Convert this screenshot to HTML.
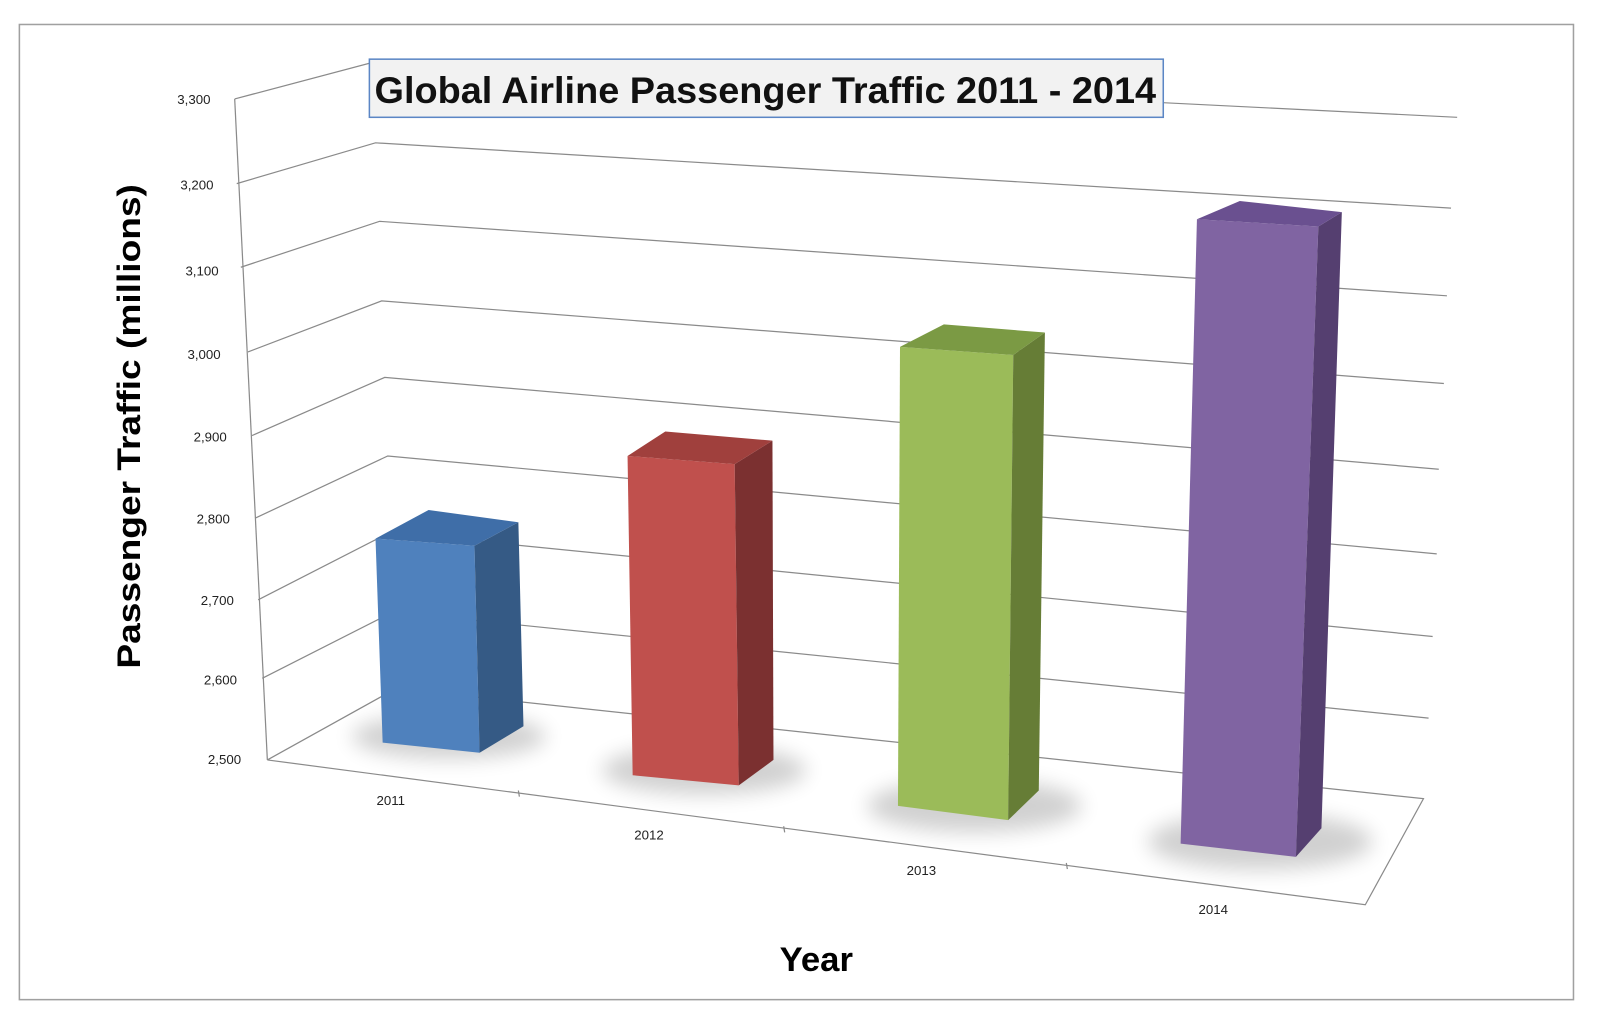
<!DOCTYPE html>
<html><head><style>html,body{margin:0;padding:0;background:#fff;width:1600px;height:1018px;overflow:hidden}</style></head>
<body>
<svg width="1600" height="1018" viewBox="0 0 1568 998" preserveAspectRatio="none" xmlns="http://www.w3.org/2000/svg" font-family="Liberation Sans, sans-serif">
<defs><filter id="b" x="-50%" y="-50%" width="200%" height="200%"><feGaussianBlur stdDeviation="10"/></filter></defs>
<rect x="19" y="24" width="1523" height="956" fill="#fff" stroke="#a0a0a0" stroke-width="1.5"/>
<g stroke="#8a8a8a" stroke-width="1.2" fill="none">
<polyline points="230,97 362,62 1428,115"/>
<polyline points="232,180 368,140 1422,204"/>
<polyline points="236,262 372,217 1418,290"/>
<polyline points="243,345 374,295 1415,376"/>
<polyline points="247,427 377,370 1410,460"/>
<polyline points="250,508 380,447 1408,543"/>
<polyline points="253,588 382,522 1404,624"/>
<polyline points="257,665 385,600 1400,704"/>
<polyline points="262,745 388,675 1395,783 1338,887 262,745"/>
<line x1="230" y1="97" x2="262" y2="745"/>
<line x1="508" y1="775" x2="509" y2="781"/><line x1="768" y1="810" x2="769" y2="816"/><line x1="1045" y1="846" x2="1046" y2="852"/>
</g>
<g font-size="13" fill="#222" text-anchor="middle">
<text x="190" y="102">3,300</text><text x="193" y="186">3,200</text><text x="198" y="270">3,100</text><text x="200" y="352">3,000</text><text x="206" y="433">2,900</text><text x="209" y="513">2,800</text><text x="213" y="593">2,700</text><text x="216" y="671">2,600</text><text x="220" y="749">2,500</text>
<text x="383" y="789">2011</text><text x="636" y="823">2012</text><text x="903" y="858">2013</text><text x="1189" y="896">2014</text>
</g>
<rect x="362" y="58" width="778" height="57" fill="#f2f2f2" stroke="#5b86c5" stroke-width="1.5"/>
<text x="750" y="101" font-size="36" font-weight="bold" text-anchor="middle" textLength="766" lengthAdjust="spacingAndGlyphs" fill="#111">Global Airline Passenger Traffic 2011 - 2014</text>
<g fill="#000" opacity="0.18" filter="url(#b)">
<ellipse cx="440" cy="722" rx="95" ry="22"/><ellipse cx="690" cy="755" rx="100" ry="24"/><ellipse cx="955" cy="790" rx="105" ry="26"/><ellipse cx="1235" cy="825" rx="110" ry="28"/>
</g>
<polygon points="368,528 465,535 470,738 375,728" fill="#4f81bd"/>
<polygon points="465,535 508,512 513,712 470,738" fill="#355a85"/>
<polygon points="368,528 420,500 508,512 465,535" fill="#3f6ea8"/>
<polygon points="615,447 720,455 724,770 620,760" fill="#c0504d"/>
<polygon points="720,455 757,432 758,745 724,770" fill="#7b3030"/>
<polygon points="615,447 652,423 757,432 720,455" fill="#a0403d"/>
<polygon points="882,340 993,348 988,804 880,790" fill="#9bbb59"/>
<polygon points="993,348 1024,326 1018,775 988,804" fill="#667d36"/>
<polygon points="882,340 925,318 1024,326 993,348" fill="#7b9a44"/>
<polygon points="1173,215 1292,222 1270,840 1157,827" fill="#8064a2"/>
<polygon points="1292,222 1315,208 1295,812 1270,840" fill="#553f70"/>
<polygon points="1173,215 1215,197 1315,208 1292,222" fill="#6a5090"/>
<text transform="translate(137,418) rotate(-90)" font-size="32" font-weight="bold" text-anchor="middle" textLength="475" lengthAdjust="spacingAndGlyphs" fill="#000">Passenger Traffic (millions)</text>
<text x="800" y="952" font-size="34" font-weight="bold" text-anchor="middle" fill="#000">Year</text>
</svg>
</body></html>
